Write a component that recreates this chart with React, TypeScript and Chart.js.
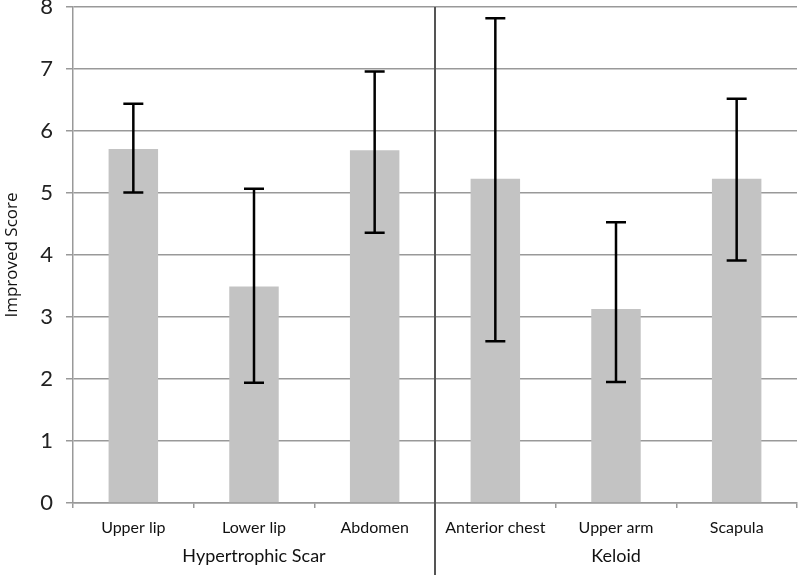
import React, { useEffect, useRef } from "react";
import { Chart, registerables } from "chart.js";

Chart.register(...registerables);

const categories = ["Upper lip", "Lower lip", "Abdomen", "Anterior chest", "Upper arm", "Scapula"];
const means = [5.71, 3.49, 5.69, 5.23, 3.13, 5.23];
const errLow = [5.01, 1.94, 4.36, 2.61, 1.95, 3.91];
const errHigh = [6.44, 5.07, 6.96, 7.82, 4.53, 6.52];
const groupNames = ["Hypertrophic Scar", "Keloid"];
const groupSizes = [3, 3];
const yTicks = [0, 1, 2, 3, 4, 5, 6, 7, 8];

const FONT = "Lato, 'Open Sans', sans-serif";

const overlayPlugin = {
  id: "overlay",
  afterDatasetsDraw(chart: any) {
    const ctx = chart.ctx;
    const x = chart.scales.x;
    const y = chart.scales.y;
    ctx.save();
    ctx.strokeStyle = "#000";
    ctx.lineWidth = 2.5;
    const cap = 10;
    for (let i = 0; i < categories.length; i++) {
      const cx = x.getPixelForValue(i);
      const yl = y.getPixelForValue(errLow[i]);
      const yh = y.getPixelForValue(errHigh[i]);
      ctx.beginPath();
      ctx.moveTo(cx, yl);
      ctx.lineTo(cx, yh);
      ctx.moveTo(cx - cap, yl);
      ctx.lineTo(cx + cap, yl);
      ctx.moveTo(cx - cap, yh);
      ctx.lineTo(cx + cap, yh);
      ctx.stroke();
    }
    ctx.restore();
  },
  afterDraw(chart: any) {
    const ctx = chart.ctx;
    const x = chart.scales.x;
    const area = chart.chartArea;
    const step = (x.right - x.left) / categories.length;
    ctx.save();
    let idx = 0;
    const centers: number[] = [];
    for (let g = 0; g < groupSizes.length; g++) {
      const start = x.left + idx * step;
      idx += groupSizes[g];
      const end = x.left + idx * step;
      centers.push((start + end) / 2);
      if (g < groupSizes.length - 1) {
        ctx.strokeStyle = "#555";
        ctx.lineWidth = 2;
        ctx.beginPath();
        ctx.moveTo(end, area.top);
        ctx.lineTo(end, 575);
        ctx.stroke();
      }
    }
    ctx.fillStyle = "#111";
    ctx.font = `18px ${FONT}`;
    ctx.textAlign = "center";
    ctx.textBaseline = "middle";
    for (let g = 0; g < groupNames.length; g++) {
      ctx.fillText(groupNames[g], centers[g], 556);
    }
    ctx.restore();
  },
};

export default function App() {
  const ref = useRef<HTMLCanvasElement>(null);
  useEffect(() => {
    const chart = new Chart(ref.current as HTMLCanvasElement, {
      type: "bar",
      data: {
        labels: categories,
        datasets: [
          {
            data: means,
            backgroundColor: "#c3c3c3",
            borderWidth: 0,
            categoryPercentage: 1,
            barPercentage: 0.41,
          },
        ],
      },
      plugins: [overlayPlugin],
      options: {
        animation: false,
        responsive: false,
        maintainAspectRatio: false,
        layout: { padding: { top: 7, right: 3, left: 0, bottom: 0 } },
        plugins: {
          legend: { display: false },
          tooltip: { enabled: false },
        },
        scales: {
          x: {
            grid: {
              offset: true,
              drawOnChartArea: false,
              drawTicks: true,
              tickLength: 5,
              color: "#999",
              lineWidth: 1.5,
            },
            border: { display: true, color: "#999", width: 1.5 },
            ticks: {
              color: "#111",
              font: { family: FONT, size: 16 },
              padding: 10,
              maxRotation: 0,
            },
            afterFit(scale: any) {
              scale.height = 75;
              scale.paddingLeft = 0;
              scale.paddingRight = 0;
            },
          },
          y: {
            min: 0,
            max: 8,
            afterBuildTicks(scale: any) {
              scale.ticks = yTicks.map((v) => ({ value: v }));
            },
            grid: {
              color: "#999",
              lineWidth: 1.5,
              drawTicks: true,
              tickLength: 7,
            },
            border: { display: true, color: "#999", width: 1.5 },
            ticks: {
              color: "#222",
              font: { family: FONT, size: 22 },
              padding: 13,
            },
            title: {
              display: true,
              text: "Improved Score",
              color: "#111",
              font: { family: "'Open Sans', sans-serif", size: 17 },
              padding: { top: 2, bottom: 0 },
            },
            afterFit(scale: any) {
              scale.width = 73;
              scale.paddingTop = 0;
              scale.paddingBottom = 0;
            },
          },
        },
      },
    });
    return () => chart.destroy();
  }, []);
  return (
    <div style={{ position: "fixed", left: 0, top: 0, width: 800, height: 578, background: "#fff" }}>
      <canvas ref={ref} width={800} height={578} style={{ width: 800, height: 578 }} />
    </div>
  );
}
